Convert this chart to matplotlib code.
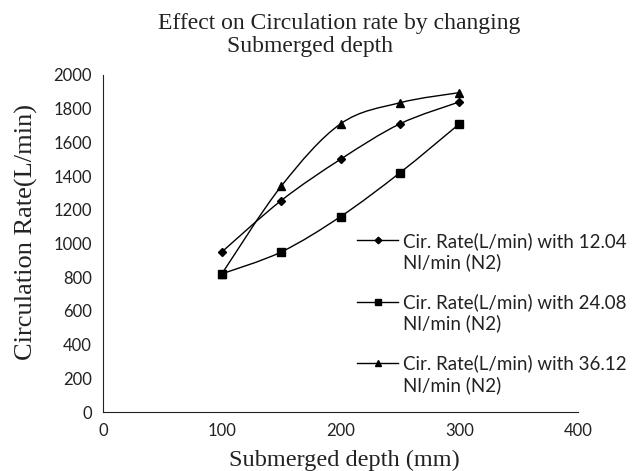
import numpy as np
import matplotlib
matplotlib.use("Agg")
import matplotlib.pyplot as plt
from matplotlib.path import Path
from matplotlib.patches import PathPatch
from matplotlib.legend_handler import HandlerLine2D

# Données
profondeur = [100, 150, 200, 250, 300]
debit_12 = [950, 1255, 1500, 1710, 1840]
debit_24 = [820, 950, 1160, 1420, 1710]
debit_36 = [820, 1340, 1710, 1835, 1895]
etiquettes = ['Cir. Rate(L/min) with 12.04\nNl/min (N2)',
              'Cir. Rate(L/min) with 24.08\nNl/min (N2)',
              'Cir. Rate(L/min) with 36.12\nNl/min (N2)']
marqueurs = ['D', 's', '^']
tailles = [4.2, 5.2, 5.6]


def courbe_lisse(ax, x, y, tension=1/6):
    # courbe de Bézier passant par les points (style "lissé" d'Excel)
    x = np.asarray(x, float)
    y = np.asarray(y, float)
    verts = [(x[0], y[0])]
    codes = [Path.MOVETO]
    n = len(x)
    for i in range(n - 1):
        i0 = max(i - 1, 0)
        i3 = min(i + 2, n - 1)
        c1 = (x[i] + (x[i + 1] - x[i0]) * tension, y[i] + (y[i + 1] - y[i0]) * tension)
        c2 = (x[i + 1] - (x[i3] - x[i]) * tension, y[i + 1] - (y[i3] - y[i]) * tension)
        verts += [c1, c2, (x[i + 1], y[i + 1])]
        codes += [Path.CURVE4] * 3
    ax.add_patch(PathPatch(Path(verts, codes), fill=False, lw=1.0, color='black'))


class PoigneeHaute(HandlerLine2D):
    # aligne le trait de la légende sur la première ligne du texte
    def create_artists(self, legend, orig_handle, xdescent, ydescent,
                       width, height, fontsize, trans):
        return super().create_artists(legend, orig_handle, xdescent,
                                      ydescent - 17, width, height, fontsize, trans)


fig = plt.figure(figsize=(6.32, 4.71), dpi=100)
ax = fig.add_axes([0.163, 0.125, 0.752, 0.716])

poignees = []
for serie, m, s, lab in zip([debit_12, debit_24, debit_36], marqueurs, tailles, etiquettes):
    courbe_lisse(ax, profondeur, serie)
    ax.plot(profondeur, serie, linestyle='none', marker=m, color='black', markersize=s)
    poignees.append(plt.Line2D([], [], color='black', lw=1.0, marker=m,
                               markersize=s * 0.8, label=lab))

ax.set_xlim(0, 400)
ax.set_ylim(0, 2000)
ax.set_xticks([0, 100, 200, 300, 400])
ax.set_yticks(range(0, 2001, 200))
ax.spines['top'].set_visible(False)
ax.spines['right'].set_visible(False)
ax.spines['left'].set_color('#222222')
ax.spines['bottom'].set_color('#222222')
ax.tick_params(length=0, labelsize=12, pad=8, labelcolor='#222222')
for t in ax.get_xticklabels() + ax.get_yticklabels():
    t.set_fontfamily('Lato')

# Titre et axes
fig.text(339 / 632, 1 - 29 / 471, 'Effect on Circulation rate by changing',
         ha='center', va='baseline', fontsize=17, family='Liberation Serif', color='#222222')
fig.text(310 / 632, 1 - 52 / 471, 'Submerged depth',
         ha='center', va='baseline', fontsize=17, family='Liberation Serif', color='#222222')
fig.text(344 / 632, 1 - 466 / 471, 'Submerged depth (mm)',
         ha='center', va='baseline', fontsize=17.5, family='Liberation Serif', color='#222222')
fig.text(26 / 632, 1 - 232 / 471, 'Circulation Rate(L/min)', rotation=90,
         ha='center', va='center', fontsize=19, family='Liberation Serif', color='#222222')

leg = fig.legend(handles=poignees, loc='upper left', bbox_to_anchor=(357 / 632, 1 - 232 / 471),
                 frameon=False, prop={'family': 'Lato', 'size': 13.5}, handlelength=2.2,
                 handletextpad=0.25, labelspacing=1.15, borderpad=0, borderaxespad=0,
                 handler_map={plt.Line2D: PoigneeHaute()})
for t in leg.get_texts():
    t.set_linespacing(1.25)
    t.set_color('#222222')

plt.savefig('out.png', dpi=100)
